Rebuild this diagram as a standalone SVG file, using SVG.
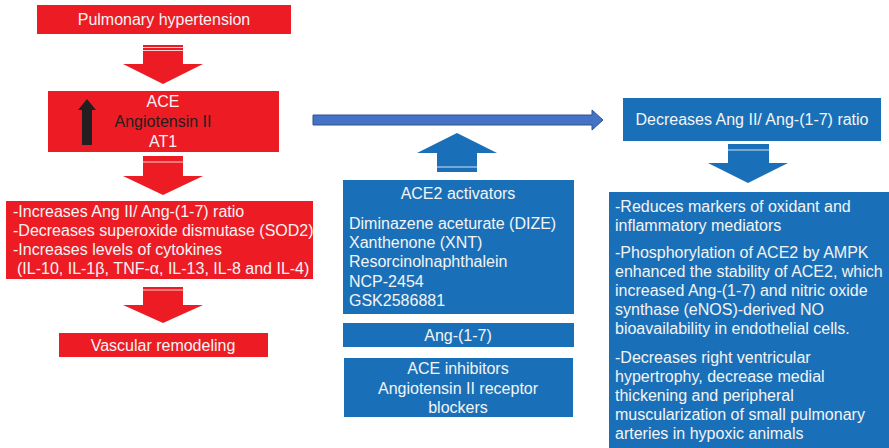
<svg xmlns="http://www.w3.org/2000/svg" width="889" height="448" viewBox="0 0 889 448">
<style>
.red{fill:#ED1C24}
.blue{fill:#1A70B8}
.t{font-family:"Liberation Sans",Arial,sans-serif;font-size:16px;fill:#F4F4F4}
.c{text-anchor:middle}
.dk{fill:#231F20}
.ln{stroke:#ffffff;stroke-width:1;opacity:0.8}
</style>
<rect width="889" height="448" fill="#ffffff"/>
<g id="connectors">
  <g id="arrow-red-1">
    <polygon class="red" points="143,45 183,45 183,64 203,64 163,84 123,64 143,64"/>
    <line class="ln" x1="143" y1="47.5" x2="183" y2="47.5"/>
    <line class="ln" x1="143" y1="50.5" x2="183" y2="50.5"/>
  </g>
  <g id="arrow-red-2">
    <polygon class="red" points="143,156 183,156 183,176 203,176 163,195 123,176 143,176"/>
    <line class="ln" x1="143" y1="162" x2="183" y2="162"/>
  </g>
  <g id="arrow-red-3">
    <polygon class="red" points="143,287 183,287 183,305 203,305 163,323 123,305 143,305"/>
    <line class="ln" x1="143" y1="290" x2="183" y2="290"/>
  </g>
  <g id="arrow-blue-right">
    <polygon points="313,115 592,115 592,110 603,120 592,130 592,125 313,125" fill="#4472C4" stroke="#2F528F" stroke-width="1"/>
  </g>
  <g id="arrow-blue-up">
    <polygon class="blue" points="437,172 477,172 477,153 497,153 457,133 417,153 437,153"/>
    <line class="ln" x1="437" y1="167" x2="477" y2="167"/>
  </g>
  <g id="arrow-blue-down">
    <polygon class="blue" points="728,144 769,144 769,163 788,163 748,183 708,163 728,163"/>
    <line class="ln" x1="728" y1="150" x2="769" y2="150"/>
  </g>
</g>
<g id="node-ph">
  <rect class="red" x="37" y="5" width="254" height="29"/>
  <text class="t c" x="164" y="25">Pulmonary hypertension</text>
</g>
<g id="node-ace">
  <rect class="red" x="48" y="91" width="231" height="61"/>
  <polygon points="82,145 92,145 92,110 96,110 87,99 78,110 82,110" fill="#231F20"/>
  <text class="t c" x="163" y="107">ACE</text>
  <text class="t c dk" x="163" y="127">Angiotensin II</text>
  <text class="t c" x="163" y="147">AT1</text>
</g>
<g id="node-increases">
  <rect class="red" x="6" y="201" width="307" height="78"/>
  <text class="t" x="13" y="217">-Increases Ang II/ Ang-(1-7) ratio</text>
  <text class="t" x="13" y="236">-Decreases superoxide dismutase (SOD2)</text>
  <text class="t" x="13" y="255">-Increases levels of cytokines</text>
  <text class="t" x="17" y="274">(IL-10, IL-1β, TNF-α, IL-13, IL-8 and IL-4)</text>
</g>
<g id="node-vascular">
  <rect class="red" x="59" y="333" width="209" height="24"/>
  <text class="t c" x="163" y="351">Vascular remodeling</text>
</g>
<g id="node-ace2">
  <rect class="blue" x="343" y="180" width="231" height="134"/>
  <text class="t c" x="458" y="199">ACE2 activators</text>
  <text class="t" x="349" y="229">Diminazene aceturate (DIZE)</text>
  <text class="t" x="349" y="248">Xanthenone (XNT)</text>
  <text class="t" x="349" y="267">Resorcinolnaphthalein</text>
  <text class="t" x="349" y="287">NCP-2454</text>
  <text class="t" x="349" y="306">GSK2586881</text>
</g>
<g id="node-ang17">
  <rect class="blue" x="343" y="323" width="231" height="24"/>
  <text class="t c" x="458" y="341">Ang-(1-7)</text>
</g>
<g id="node-acei">
  <rect class="blue" x="344" y="358" width="229" height="59"/>
  <text class="t c" x="458" y="374">ACE inhibitors</text>
  <text class="t c" x="458" y="394">Angiotensin II receptor</text>
  <text class="t c" x="458" y="413">blockers</text>
</g>
<g id="node-decreases">
  <rect class="blue" x="623" y="98" width="258" height="43"/>
  <text class="t c" x="752" y="125">Decreases Ang II/ Ang-(1-7) ratio</text>
</g>
<g id="node-effects">
  <rect class="blue" x="609" y="192" width="280" height="256"/>
  <text class="t" x="615" y="212">-Reduces markers of oxidant and</text>
  <text class="t" x="615" y="231">inflammatory mediators</text>
  <text class="t" x="615" y="258">-Phosphorylation of ACE2 by AMPK</text>
  <text class="t" x="615" y="277">enhanced the stability of ACE2, which</text>
  <text class="t" x="615" y="296">increased Ang-(1-7) and nitric oxide</text>
  <text class="t" x="615" y="315">synthase (eNOS)-derived NO</text>
  <text class="t" x="615" y="334">bioavailability in endothelial cells.</text>
  <text class="t" x="615" y="363">-Decreases right ventricular</text>
  <text class="t" x="615" y="382">hypertrophy, decrease medial</text>
  <text class="t" x="615" y="401">thickening and peripheral</text>
  <text class="t" x="615" y="420">muscularization of small pulmonary</text>
  <text class="t" x="615" y="439">arteries in hypoxic animals</text>
</g>
</svg>
